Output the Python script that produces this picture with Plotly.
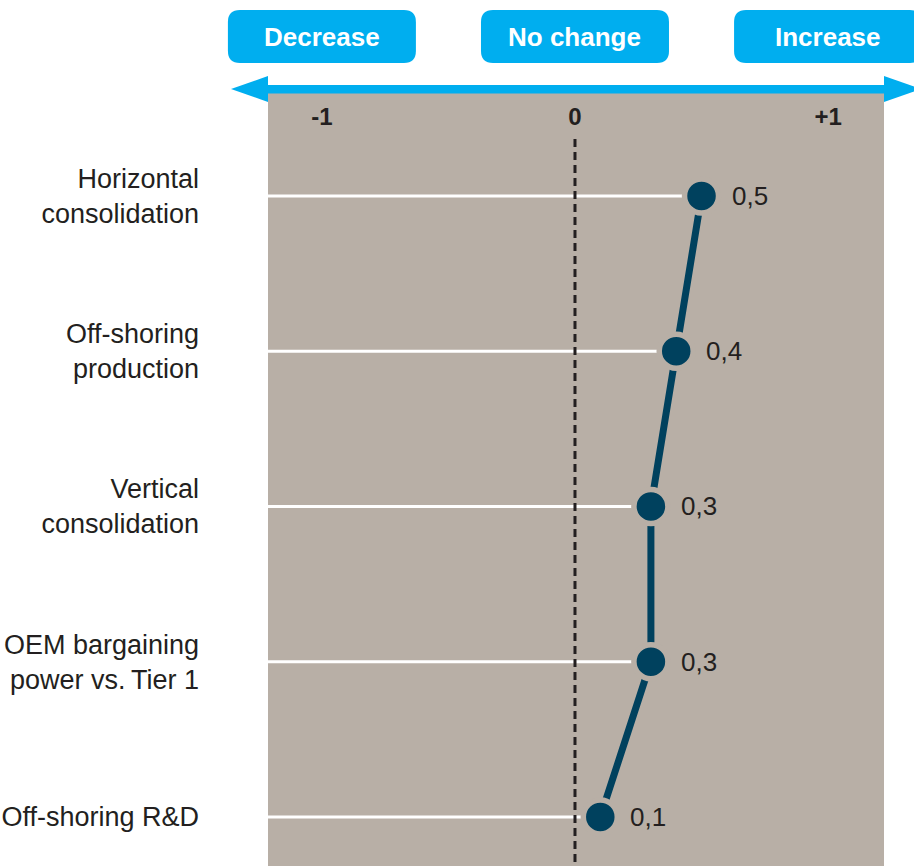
import plotly.graph_objects as go

# ---- data ----
categories = [
    "Horizontal<br>consolidation",
    "Off-shoring<br>production",
    "Vertical<br>consolidation",
    "OEM bargaining<br>power vs.\u2009Tier 1",
    "Off-shoring R&D",
]
values = [0.5, 0.4, 0.3, 0.3, 0.1]
scale_ticks = [-1, 0, 1]
scale_tick_text = ["-1", "0", "+1"]
direction_labels = ["Decrease", "No change", "Increase"]

# ---- styling ----
BG = "#b8afa6"
NAVY = "#00415e"
CYAN = "#00aeef"
INK = "#231f20"
W_PX, H_PX = 914, 866
L, R, T, B = 268, 884, 93, 866          # plot area in pixels
XR = [-1.213, 1.221]
YR = [4.316, -0.663]

def xpap(px):
    return (px - L) / (R - L)

def ypap(py):
    return (B - py) / (B - T)

def data_to_px(x):
    return L + (x - XR[0]) / (XR[1] - XR[0]) * (R - L)

def rounded_rect(x0, y0, x1, y1, r):
    """SVG path (paper coords) of a rounded rectangle given in pixels."""
    X0, X1 = xpap(x0), xpap(x1)
    Y0, Y1 = ypap(y0), ypap(y1)          # Y0 is top
    rx, ry = r / (R - L), r / (B - T)
    return (
        f"M{X0 + rx},{Y0} L{X1 - rx},{Y0} Q{X1},{Y0} {X1},{Y0 - ry} "
        f"L{X1},{Y1 + ry} Q{X1},{Y1} {X1 - rx},{Y1} "
        f"L{X0 + rx},{Y1} Q{X0},{Y1} {X0},{Y1 + ry} "
        f"L{X0},{Y0 - ry} Q{X0},{Y0} {X0 + rx},{Y0} Z"
    )

rows = list(range(len(categories)))
fig = go.Figure()

# white guide lines from the left edge to each point
for v, r in zip(values, rows):
    fig.add_trace(go.Scatter(
        x=[XR[0], v], y=[r, r], mode="lines",
        line=dict(color="white", width=3), hoverinfo="skip", showlegend=False,
    ))

# connecting line
fig.add_trace(go.Scatter(
    x=values, y=rows, mode="lines",
    line=dict(color=NAVY, width=7), hoverinfo="skip", showlegend=False,
))

# points
fig.add_trace(go.Scatter(
    x=values, y=rows, mode="markers",
    marker=dict(size=34, color=NAVY, line=dict(color=BG, width=5.5)),
    showlegend=False,
))

annotations = []
for v, r in zip(values, rows):
    annotations.append(dict(
        x=v, y=r, xref="x", yref="y", text=f"{v:.1f}".replace(".", ","),
        showarrow=False, xanchor="left", yanchor="middle", xshift=28,
        font=dict(family="Liberation Sans, Arial", size=26, color=INK),
    ))

shapes = []
# dashed zero line
shapes.append(dict(
    type="line", xref="x", yref="y", x0=0, x1=0, y0=-0.367, y1=YR[0],
    line=dict(color=INK, width=3, dash="8px,5px"), layer="above",
))

# double-headed arrow above the plot
shapes.append(dict(
    type="rect", xref="paper", yref="paper",
    x0=xpap(255), x1=xpap(897), y0=ypap(93.5), y1=ypap(85),
    fillcolor=CYAN, line=dict(width=0),
))
shapes.append(dict(
    type="path", xref="paper", yref="paper", fillcolor=CYAN, line=dict(width=0),
    path=f"M{xpap(231)},{ypap(89)} L{xpap(268)},{ypap(76)} L{xpap(268)},{ypap(102)} Z",
))
shapes.append(dict(
    type="path", xref="paper", yref="paper", fillcolor=CYAN, line=dict(width=0),
    path=f"M{xpap(921)},{ypap(89)} L{xpap(884)},{ypap(76)} L{xpap(884)},{ypap(102)} Z",
))

# direction boxes centred on the scale ticks
for tv, label in zip(scale_ticks, direction_labels):
    cx = data_to_px(tv)
    shapes.append(dict(
        type="path", xref="paper", yref="paper", fillcolor=CYAN,
        line=dict(width=0), path=rounded_rect(cx - 94, 10, cx + 94, 63, 12),
    ))
    annotations.append(dict(
        x=xpap(cx), y=ypap(37), xref="paper", yref="paper", text=label,
        showarrow=False, xanchor="center", yanchor="middle",
        font=dict(family="Liberation Sans, Arial", size=26, color="white", weight=700),
    ))

fig.update_layout(
    width=W_PX, height=H_PX, autosize=False,
    margin=dict(l=L, r=W_PX - R, t=T, b=H_PX - B, pad=0),
    paper_bgcolor="white", plot_bgcolor=BG,
    shapes=shapes, annotations=annotations, showlegend=False,
    xaxis=dict(
        range=XR, side="top", tickvals=scale_ticks, ticktext=scale_tick_text,
        ticklabelposition="inside", ticklabelstandoff=12, ticks="",
        showgrid=False, zeroline=False, showline=False, fixedrange=True,
        automargin=False,
        tickfont=dict(family="Liberation Sans, Arial", size=24, color=INK, weight=700),
    ),
    yaxis=dict(
        range=YR, tickvals=rows, ticktext=categories, ticks="",
        ticklabelstandoff=68, showgrid=False, zeroline=False, showline=False,
        fixedrange=True, automargin=False,
        tickfont=dict(family="Liberation Sans, Arial", size=27, color=INK),
    ),
)

fig.write_html("out.html")
